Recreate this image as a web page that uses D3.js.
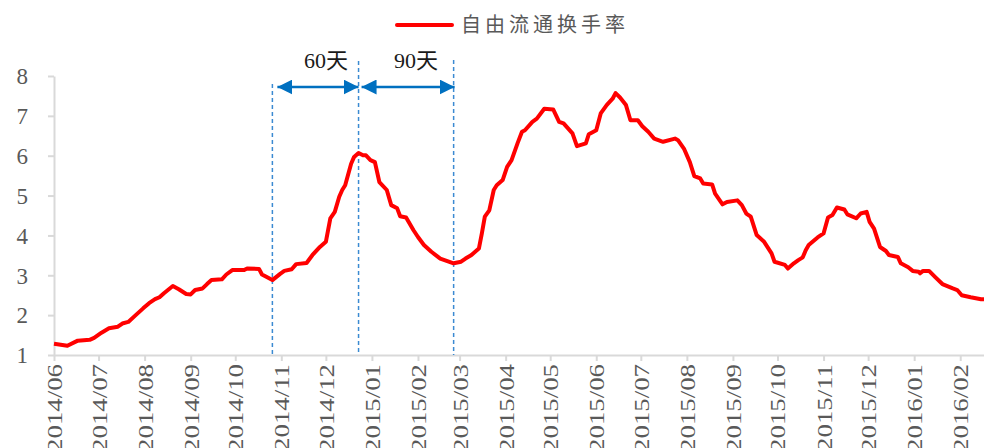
<!DOCTYPE html>
<html lang="zh">
<head>
<meta charset="UTF-8" />
<title>自由流通换手率</title>
<script src="https://d3js.org/d3.v7.min.js"></script>
<style>
  body { margin: 0; background: #fff; }
  svg { display: block; }
</style>
</head>
<body>
<div id="chart"></div>
<script>
// 自由流通换手率
const dates = [
  "2014-06-01","2014-06-10","2014-06-17","2014-06-25","2014-06-28","2014-07-03","2014-07-08","2014-07-14",
  "2014-07-17","2014-07-21","2014-07-26","2014-07-31","2014-08-04","2014-08-08","2014-08-11","2014-08-14",
  "2014-08-20","2014-08-24","2014-08-29","2014-09-01","2014-09-04","2014-09-09","2014-09-12","2014-09-15",
  "2014-09-22","2014-09-25","2014-09-29","2014-10-07","2014-10-09","2014-10-17","2014-10-19","2014-10-26",
  "2014-10-31","2014-11-03","2014-11-08","2014-11-11","2014-11-18","2014-11-22","2014-11-27","2014-12-01",
  "2014-12-04","2014-12-07","2014-12-10","2014-12-12","2014-12-14","2014-12-18","2014-12-20","2014-12-23",
  "2014-12-26","2014-12-28","2014-12-31","2015-01-03","2015-01-06","2015-01-11","2015-01-14","2015-01-18",
  "2015-01-20","2015-01-24","2015-01-29","2015-02-01","2015-02-05","2015-02-10","2015-02-16","2015-02-25",
  "2015-03-02","2015-03-05","2015-03-09","2015-03-14","2015-03-16","2015-03-18","2015-03-21","2015-03-24",
  "2015-03-26","2015-03-30","2015-04-02","2015-04-05","2015-04-09","2015-04-12","2015-04-14","2015-04-19",
  "2015-04-22","2015-04-27","2015-05-03","2015-05-07","2015-05-10","2015-05-16","2015-05-19","2015-05-25",
  "2015-05-27","2015-06-01","2015-06-04","2015-06-08","2015-06-12","2015-06-14","2015-06-17","2015-06-21",
  "2015-06-24","2015-06-29","2015-07-02","2015-07-06","2015-07-10","2015-07-16","2015-07-24","2015-07-26",
  "2015-07-30","2015-08-03","2015-08-06","2015-08-10","2015-08-12","2015-08-18","2015-08-20","2015-08-25",
  "2015-08-28","2015-09-04","2015-09-07","2015-09-10","2015-09-13","2015-09-17","2015-09-22","2015-09-27",
  "2015-09-29","2015-10-06","2015-10-08","2015-10-12","2015-10-15","2015-10-18","2015-10-20","2015-10-22",
  "2015-10-28","2015-11-01","2015-11-04","2015-11-07","2015-11-10","2015-11-15","2015-11-17","2015-11-23",
  "2015-11-26","2015-11-30","2015-12-02","2015-12-05","2015-12-09","2015-12-13","2015-12-15","2015-12-21",
  "2015-12-23","2015-12-28","2015-12-31","2016-01-04","2016-01-05","2016-01-07","2016-01-11","2016-01-15",
  "2016-01-20","2016-01-27","2016-01-30","2016-02-02","2016-02-08","2016-02-15","2016-02-17"
];
const turnover = [
  1.28,1.23,1.36,1.38,1.43,1.56,1.67,1.71,
  1.79,1.83,2.00,2.17,2.30,2.40,2.45,2.55,
  2.73,2.65,2.53,2.52,2.63,2.67,2.78,2.88,
  2.90,3.02,3.13,3.13,3.17,3.16,3.02,2.88,
  3.03,3.11,3.15,3.28,3.31,3.51,3.71,3.84,
  4.43,4.59,4.97,5.14,5.26,5.80,5.97,6.07,
  6.01,6.01,5.89,5.84,5.34,5.14,4.76,4.68,
  4.48,4.45,4.13,3.96,3.76,3.59,3.42,3.30,
  3.34,3.42,3.51,3.67,4.05,4.47,4.63,5.14,
  5.26,5.39,5.72,5.89,6.31,6.60,6.64,6.85,
  6.93,7.18,7.16,6.85,6.81,6.56,6.24,6.31,
  6.54,6.64,7.06,7.27,7.43,7.57,7.46,7.27,
  6.89,6.89,6.74,6.60,6.43,6.35,6.43,6.39,
  6.18,5.84,5.49,5.43,5.30,5.28,5.05,4.78,
  4.84,4.88,4.76,4.55,4.47,4.01,3.84,3.55,
  3.34,3.26,3.17,3.30,3.38,3.45,3.63,3.76,
  3.95,4.05,4.45,4.51,4.70,4.65,4.53,4.43,
  4.55,4.59,4.34,4.17,3.71,3.61,3.51,3.46,
  3.30,3.20,3.11,3.09,3.05,3.11,3.11,2.96,
  2.78,2.67,2.63,2.50,2.45,2.40,2.40
];
const yTicks = [1, 2, 3, 4, 5, 6, 7, 8];
const markDates = ["2014-10-26", "2014-12-23", "2015-02-25"];
const spanLabels = ["60天", "90天"];
const seriesName = "自由流通换手率";

const width = 984, height = 448;
const parse = d3.utcParse("%Y-%m-%d");
const data = dates.map((d, i) => ({ date: parse(d), value: turnover[i] }));

const svg = d3.select("#chart").append("svg")
  .attr("width", width).attr("height", height);

const x = d3.scaleUtc()
  .domain([parse("2014-06-01"), parse("2016-02-17")])
  .range([54, 984]);
const y = d3.scaleLinear().domain([1, 8]).range([355, 76]);

const grey = "#d9d9d9", textGrey = "#595959";

// y axis
const yAxis = svg.append("g").attr("transform", "translate(54,0)")
  .call(d3.axisLeft(y).tickValues(yTicks).tickSize(6).tickSizeOuter(0).tickFormat(d3.format("d")));
yAxis.select(".domain").attr("stroke", grey).attr("stroke-width", 2);
yAxis.selectAll(".tick line").attr("stroke", grey).attr("stroke-width", 2);
yAxis.selectAll(".tick text")
  .attr("x", -26).attr("dy", "0.34em")
  .attr("fill", textGrey)
  .style("font-family", "'Liberation Serif', 'Times New Roman', serif")
  .style("font-size", "23px");

// x axis
const xAxis = svg.append("g").attr("transform", "translate(0,355)")
  .call(d3.axisBottom(x).ticks(d3.utcMonth.every(1)).tickSize(6).tickSizeOuter(0)
    .tickFormat(d3.utcFormat("%Y/%m")));
xAxis.select(".domain").attr("stroke", grey).attr("stroke-width", 2);
xAxis.selectAll(".tick line").attr("stroke", grey).attr("stroke-width", 2);
xAxis.selectAll(".tick text")
  .attr("y", 0).attr("dy", "0.34em")
  .attr("transform", "translate(0,9) rotate(-90) scale(1.22,1)")
  .attr("text-anchor", "end")
  .attr("fill", textGrey)
  .style("font-family", "'Liberation Serif', 'Times New Roman', serif")
  .style("font-size", "22px");

// annotation: dashed verticals
const markX = markDates.map(d => x(parse(d)));
const markTop = [84, 61, 60];
svg.append("g").selectAll("line").data(markX).join("line")
  .attr("x1", d => d).attr("x2", d => d)
  .attr("y1", (d, i) => markTop[i]).attr("y2", 355)
  .attr("stroke", "#3b8ad2").attr("stroke-width", 1.5)
  .attr("stroke-dasharray", "4,3");

// double-headed arrows
const defs = svg.append("defs");
["start", "end"].forEach(k => {
  defs.append("marker")
    .attr("id", "arr-" + k)
    .attr("viewBox", "0 0 15 15")
    .attr("refX", k === "end" ? 15 : 0).attr("refY", 7.5)
    .attr("markerWidth", 15).attr("markerHeight", 15)
    .attr("markerUnits", "userSpaceOnUse")
    .attr("orient", "auto")
    .append("path")
    .attr("d", k === "end" ? "M0,0L15,7.5L0,15Z" : "M15,0L0,7.5L15,15Z")
    .attr("fill", "#0070c0");
});
const spans = [
  { x1: markX[0] + 5, x2: markX[1], label: spanLabels[0] },
  { x1: markX[1] + 3, x2: markX[2] + 1, label: spanLabels[1] }
];
const ay = 87;
svg.append("g").selectAll("line").data(spans).join("line")
  .attr("x1", d => d.x1).attr("x2", d => d.x2)
  .attr("y1", ay).attr("y2", ay)
  .attr("stroke", "#0070c0").attr("stroke-width", 2.5)
  .attr("marker-start", "url(#arr-start)")
  .attr("marker-end", "url(#arr-end)");
svg.append("g").selectAll("text").data(spans).join("text")
  .attr("x", d => (d.x1 + d.x2) / 2 + 8).attr("y", 68)
  .attr("text-anchor", "middle")
  .attr("fill", "#1a1a1a")
  .style("font-family", "'Liberation Serif', 'Noto Sans CJK SC', serif")
  .style("font-size", "22px")
  .text(d => d.label);

// series line
const line = d3.line().x(d => x(d.date)).y(d => y(d.value));
svg.append("path").datum(data)
  .attr("d", line)
  .attr("fill", "none")
  .attr("stroke", "#ff0000")
  .attr("stroke-width", 4)
  .attr("stroke-linejoin", "round");

// legend
const lg = svg.append("g").attr("transform", "translate(397,25)");
lg.append("line").attr("x1", 0).attr("x2", 55).attr("y1", 0).attr("y2", 0)
  .attr("stroke", "#ff0000").attr("stroke-width", 4).attr("stroke-linecap", "round");
lg.append("text").attr("x", 64).attr("y", 0).attr("dy", "0.36em")
  .attr("fill", textGrey)
  .style("font-family", "'Noto Sans CJK SC', sans-serif")
  .style("font-size", "20px")
  .style("letter-spacing", "4px")
  .text(seriesName);
</script>
</body>
</html>
